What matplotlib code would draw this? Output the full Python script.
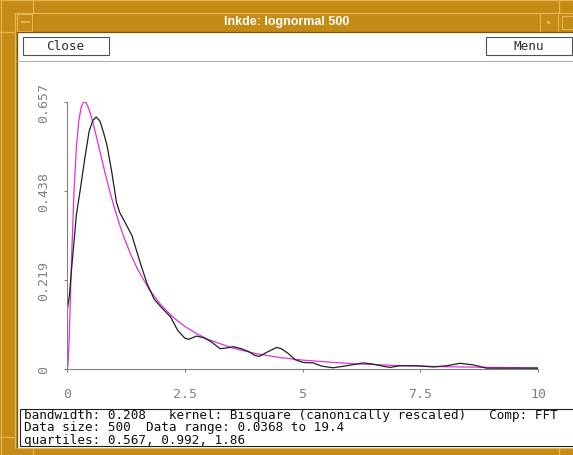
import matplotlib
matplotlib.use("Agg")
import matplotlib.pyplot as plt
from matplotlib.patches import Rectangle

# ---------------- data ----------------
title = "lnkde: lognormal 500"
info_lines = [
    "bandwidth: 0.208   kernel: Bisquare (canonically rescaled)   Comp: FFT",
    "Data size: 500  Data range: 0.0368 to 19.4",
    "quartiles: 0.567, 0.992, 1.86",
]
x_ticks = [0, 2.5, 5, 7.5, 10]
x_tick_labels = ["0", "2.5", "5", "7.5", "10"]
y_ticks = [0, 0.219, 0.438, 0.657]
y_tick_labels = ["0", "0.219", "0.438", "0.657"]

# kernel density estimate (black)
kde_x = [0.0, 0.05, 0.1, 0.2, 0.28, 0.38, 0.47, 0.55, 0.62, 0.7, 0.78, 0.85,
         0.95, 1.05, 1.12, 1.2, 1.38, 1.55, 1.7, 1.85, 2.0, 2.2, 2.35, 2.5,
         2.58, 2.75, 2.9, 3.05, 3.25, 3.4, 3.53, 3.7, 3.85, 4.0, 4.08, 4.24,
         4.45, 4.55, 4.7, 4.84, 5.02, 5.23, 5.41, 5.65, 5.94, 6.29, 6.5, 6.72,
         6.86, 7.07, 7.42, 7.78, 8.06, 8.34, 8.63, 8.91, 9.4, 10.0]
kde_y = [0.14, 0.18, 0.25, 0.38, 0.44, 0.52, 0.585, 0.612, 0.62, 0.61, 0.58,
         0.55, 0.485, 0.41, 0.385, 0.368, 0.328, 0.263, 0.21, 0.172, 0.152,
         0.128, 0.095, 0.076, 0.073, 0.081, 0.077, 0.068, 0.05, 0.052, 0.055,
         0.05, 0.043, 0.033, 0.031, 0.041, 0.053, 0.05, 0.038, 0.023, 0.016,
         0.015, 0.007, 0.003, 0.008, 0.015, 0.012, 0.0066, 0.004, 0.008, 0.008,
         0.005, 0.008, 0.014, 0.010, 0.002, 0.002, 0.002]

# reference density (magenta)
ref_x = [0.0, 0.02, 0.03, 0.05, 0.075, 0.1, 0.15, 0.2, 0.25, 0.3, 0.35, 0.4,
         0.45, 0.5, 0.55, 0.6, 0.7, 0.8, 0.9, 1.0, 1.1, 1.2, 1.35, 1.5, 1.75,
         2.0, 2.25, 2.5, 2.75, 3.0, 3.5, 4.0, 4.5, 5.0, 6.0, 7.0, 8.0, 9.0, 10.0]
ref_y = [0.0, 0.0095, 0.0284, 0.0898, 0.1859, 0.2816, 0.4399, 0.5463, 0.6104,
         0.6442, 0.657, 0.6555, 0.6445, 0.6276, 0.6067, 0.5836, 0.5348, 0.4864,
         0.4408, 0.3989, 0.361, 0.327, 0.2825, 0.245, 0.1949, 0.1569, 0.1276,
         0.1049, 0.087, 0.0727, 0.052, 0.0381, 0.0286, 0.0219, 0.01335,
         0.00858, 0.00574, 0.00396, 0.00282]

# ---------------- styling ----------------
W, H = 573, 456
GOLD = "#c48c16"
LIGHT = "#e6b44c"
DARK = "#7c5408"
MONO = "DejaVu Sans Mono"

fig = plt.figure(figsize=(W / 100, H / 100), dpi=100)
fig.patch.set_facecolor("white")

# window chrome (pixel coordinates)
ch = fig.add_axes([0, 0, 1, 1], zorder=0)
ch.set_xlim(0, W)
ch.set_ylim(H, 0)
ch.axis("off")

ch.add_patch(Rectangle((0, 0), W, 33, facecolor=GOLD, edgecolor="none"))
ch.add_patch(Rectangle((0, 0), 16.5, H, facecolor=GOLD, edgecolor="none"))
ch.add_patch(Rectangle((0, 449), W, 7, facecolor=GOLD, edgecolor="none"))

lw = 0.9
ch.plot([0, W], [1, 1], color=LIGHT, lw=lw)
ch.plot([1, 1], [0, H], color=LIGHT, lw=lw)
ch.plot([14.5, W], [13.5, 13.5], color=LIGHT, lw=lw)
ch.plot([14.5, 14.5], [13.5, 449], color=LIGHT, lw=lw)
ch.plot([16.5, W], [32.5, 32.5], color=DARK, lw=lw)
ch.plot([16.5, 16.5], [32.5, 449], color=DARK, lw=lw)
ch.plot([16.5, W], [449.5, 449.5], color=LIGHT, lw=lw)
# corner marks
ch.plot([32.5, 32.5], [0, 13.5], color=LIGHT, lw=lw)
ch.plot([0, 14.5], [32.5, 32.5], color=LIGHT, lw=lw)
ch.plot([0, 14.5], [438.5, 438.5], color=LIGHT, lw=lw)
ch.plot([32.5, 32.5], [449.5, H], color=LIGHT, lw=lw)
ch.plot([558.5, 558.5], [0, 13.5], color=LIGHT, lw=lw)
ch.plot([558.5, 558.5], [449.5, H], color=LIGHT, lw=lw)

# title bar widgets
ch.add_patch(Rectangle((16.5, 14.5), 15.5, 17.5, facecolor=GOLD,
                       edgecolor=LIGHT, lw=0.8))
ch.add_patch(Rectangle((20.5, 21.5), 9, 2.5, facecolor=LIGHT, edgecolor="none"))
ch.plot([539.5, 539.5], [14, 32], color=LIGHT, lw=lw)
ch.add_patch(Rectangle((547, 22), 2.5, 2.5, facecolor=LIGHT, edgecolor="none"))
ch.plot([557.5, 557.5], [14, 32], color=LIGHT, lw=lw)
ch.add_patch(Rectangle((561.5, 16.5), 12, 13, facecolor=GOLD,
                       edgecolor=LIGHT, lw=0.8))
ch.text(287, 22.5, title, color="white", fontsize=9, fontweight="bold",
        family="Liberation Sans", ha="center", va="center")

# buttons
ch.add_patch(Rectangle((22.5, 37.5), 86, 18.5, facecolor="white",
                       edgecolor="#505050", lw=0.8))
ch.text(65.5, 47, "Close", family=MONO, fontsize=9.2, color="#303030",
        ha="center", va="center")
ch.add_patch(Rectangle((485.5, 37.5), 86, 18.5, facecolor="white",
                       edgecolor="#505050", lw=0.8))
ch.text(528.5, 47, "Menu", family=MONO, fontsize=9.2, color="#303030",
        ha="center", va="center")
ch.plot([17, W], [61.5, 61.5], color="#b0b0b0", lw=0.8)

# info box (one multi-line text block)
ch.add_patch(Rectangle((19.5, 410.5), 560, 36.5, facecolor="white",
                       edgecolor="#202020", lw=0.8))
ch.text(24, 428, "\n".join(info_lines), family=MONO, fontsize=9.1,
        color="#101010", ha="left", va="center", linespacing=0.97)

# ---------------- plot ----------------
x0, x1, ytop, ybot = 67, 538, 103, 370
ax = fig.add_axes([x0 / W, (H - ybot) / H, (x1 - x0) / W, (ybot - ytop) / H],
                  zorder=1)
ax.patch.set_alpha(0)
ax.plot(ref_x, ref_y, color="#e030e0", lw=0.9, solid_joinstyle="round")
ax.plot(kde_x, kde_y, color="#202020", lw=0.9, solid_joinstyle="round")
ax.set_xlim(0, 10)
ax.set_ylim(0, 0.657)

for s in ("top", "right"):
    ax.spines[s].set_visible(False)
for s in ("left", "bottom"):
    ax.spines[s].set_color("#808080")
    ax.spines[s].set_linewidth(0.8)

ax.set_xticks(x_ticks)
ax.set_xticklabels(x_tick_labels, family=MONO, fontsize=9.5, color="#808080")
ax.set_yticks(y_ticks)
ax.set_yticklabels(y_tick_labels, family=MONO, fontsize=9.5, color="#808080",
                   rotation=90, va="center")
ax.tick_params(axis="both", direction="out", length=2.5, width=0.8,
               color="#808080")
ax.tick_params(axis="x", pad=10.5)
ax.tick_params(axis="y", pad=9.5)

fig.savefig("out.png", dpi=100)
